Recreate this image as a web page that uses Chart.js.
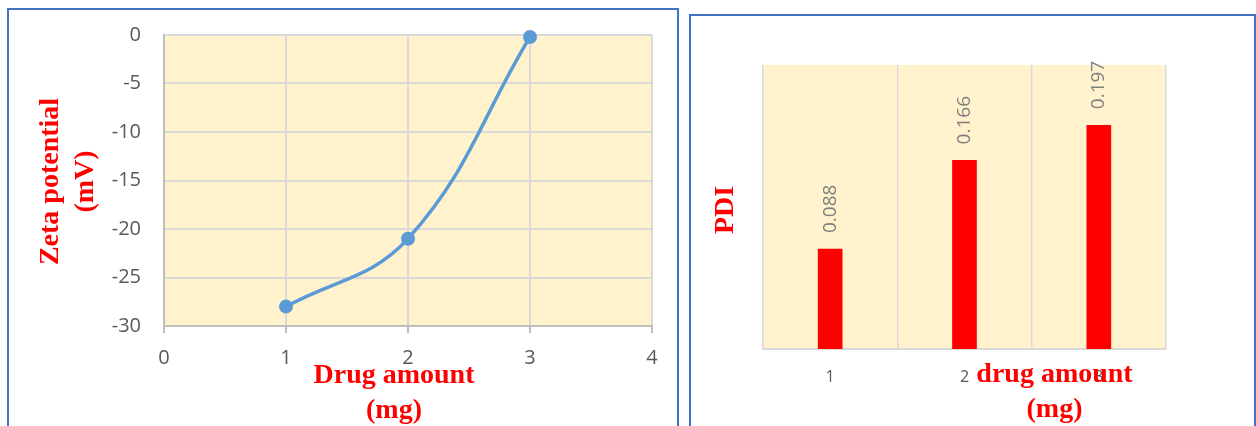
<!DOCTYPE html>
<html>
<head>
<meta charset="utf-8">
<title>Zeta potential and PDI vs drug amount</title>
<script src="https://cdn.jsdelivr.net/npm/chart.js@4.4.1/dist/chart.umd.min.js"></script>
<style>
  html, body { margin: 0; padding: 0; background: #fff; }
  #page { position: relative; width: 1256px; height: 426px; overflow: hidden; }
  .panel { position: absolute; box-sizing: border-box; border: 2px solid #4472c4; }
  #zeta-panel { left: 7px; top: 8px; width: 672px; height: 440px; }
  #pdi-panel { left: 689px; top: 14px; width: 567px; height: 440px; }
  canvas { position: absolute; top: 0; }
  #zeta-chart { left: 0; }
  #pdi-chart { left: 680px; }
</style>
</head>
<body>
<div id="page">
  <div class="panel" id="zeta-panel"></div>
  <div class="panel" id="pdi-panel"></div>
  <canvas id="zeta-chart" width="680" height="426"></canvas>
  <canvas id="pdi-chart" width="576" height="426"></canvas>
</div>
<script>
// zeta potential (mV) per drug amount (mg)
const drugAmounts = [1, 2, 3];
const zetaPotential = [-28, -21, -0.2];
const zetaXTicks = [0, 1, 2, 3, 4];
const zetaYTicks = [0, -5, -10, -15, -20, -25, -30];

// polydispersity index per drug amount
const pdiCategories = ['1', '2', '3'];
const pdiValues = [0.088, 0.166, 0.197];

const TICK_FONT = 'Open Sans';
const TITLE_FONT = 'bold 28px "Liberation Serif", "Times New Roman", serif';
const TITLE_COLOR = '#ff0000';
const PLOT_FILL = '#fff2cc';

// fills the plot area before grid lines are drawn
const plotBackground = {
  id: 'plotBackground',
  beforeDraw(chart, args, opts) {
    const { ctx, chartArea } = chart;
    ctx.save();
    ctx.fillStyle = opts.color;
    ctx.fillRect(chartArea.left, chartArea.top, chartArea.width, chartArea.height);
    ctx.restore();
  },
};

// two-line axis titles placed relative to the plot area
const axisTitles = {
  id: 'axisTitles',
  afterDraw(chart, args, opts) {
    const { ctx, chartArea } = chart;
    ctx.save();
    ctx.font = opts.font;
    ctx.fillStyle = opts.color;
    ctx.textAlign = 'center';
    ctx.textBaseline = 'middle';
    opts.items.forEach((item) => {
      item.lines.forEach((line, i) => {
        ctx.save();
        if (item.vertical) {
          const x = chartArea.left + item.dx + i * opts.lineHeight;
          const y = (chartArea.top + chartArea.bottom) / 2 + item.dy;
          ctx.translate(x, y);
          ctx.rotate(-Math.PI / 2);
        } else {
          const x = (chartArea.left + chartArea.right) / 2 + item.dx;
          const y = chartArea.bottom + item.dy + i * opts.lineHeight;
          ctx.translate(x, y);
        }
        ctx.fillText(line, 0, 0);
        ctx.restore();
      });
    });
    ctx.restore();
  },
};

// rotated value labels above each bar
const barValueLabels = {
  id: 'barValueLabels',
  afterDatasetsDraw(chart, args, opts) {
    const { ctx } = chart;
    const meta = chart.getDatasetMeta(0);
    const values = chart.data.datasets[0].data;
    ctx.save();
    ctx.font = opts.font;
    ctx.fillStyle = opts.color;
    ctx.textAlign = 'left';
    ctx.textBaseline = 'middle';
    meta.data.forEach((bar, i) => {
      ctx.save();
      ctx.translate(bar.x, bar.y - opts.offset);
      ctx.rotate(-Math.PI / 2);
      ctx.fillText(values[i].toFixed(3), 0, 0);
      ctx.restore();
    });
    ctx.restore();
  },
};

const fixedTicks = (values) => (scale) => {
  scale.ticks = values.slice().sort((a, b) => a - b).map((value) => ({ value }));
};

const createZetaChart = () => new Chart(document.getElementById('zeta-chart'), {
  type: 'line',
  data: {
    datasets: [{
      data: drugAmounts.map((x, i) => ({ x, y: zetaPotential[i] })),
      borderColor: '#5b9bd5',
      backgroundColor: '#5b9bd5',
      borderWidth: 3.5,
      tension: 0.4,
      pointRadius: 7,
      pointBorderWidth: 0,
      pointBackgroundColor: '#5b9bd5',
      clip: false,
    }],
  },
  options: {
    responsive: false,
    animation: false,
    layout: { padding: { left: 0, top: 34, right: 28, bottom: 0 } },
    plugins: {
      legend: { display: false },
      tooltip: { enabled: false },
      plotBackground: { color: PLOT_FILL },
      axisTitles: {
        font: TITLE_FONT,
        color: TITLE_COLOR,
        lineHeight: 35,
        items: [
          { lines: ['Drug amount', '(mg)'], dx: -14, dy: 50 },
          { lines: ['Zeta potential', '(mV)'], vertical: true, dx: -113, dy: 1 },
        ],
      },
    },
    scales: {
      x: {
        type: 'linear',
        min: 0,
        max: 4,
        afterBuildTicks: fixedTicks(zetaXTicks),
        afterFit: (scale) => { scale.height = 100; },
        grid: { color: '#d9d9d9', lineWidth: 2, drawTicks: true, tickLength: 7, tickColor: '#bfbfbf' },
        border: { color: '#bfbfbf', width: 2 },
        ticks: { color: '#595959', font: { family: TICK_FONT, size: 20 }, padding: 13 },
      },
      y: {
        min: -30,
        max: 0,
        afterBuildTicks: fixedTicks(zetaYTicks),
        afterFit: (scale) => { scale.width = 164; },
        grid: { color: '#d9d9d9', lineWidth: 2, drawTicks: false },
        border: { color: '#bfbfbf', width: 2 },
        ticks: { color: '#595959', font: { family: TICK_FONT, size: 20 }, padding: 23 },
      },
    },
  },
  plugins: [plotBackground, axisTitles],
});

const createPdiChart = () => new Chart(document.getElementById('pdi-chart'), {
  type: 'bar',
  data: {
    labels: pdiCategories,
    datasets: [{
      data: pdiValues,
      backgroundColor: '#ff0000',
      barThickness: 24,
    }],
  },
  options: {
    responsive: false,
    animation: false,
    layout: { padding: { left: 0, top: 65, right: 90, bottom: 0 } },
    plugins: {
      legend: { display: false },
      tooltip: { enabled: false },
      plotBackground: { color: PLOT_FILL },
      barValueLabels: { font: '19px "Open Sans"', color: '#7f7f7f', offset: 16 },
      axisTitles: {
        font: TITLE_FONT,
        color: TITLE_COLOR,
        lineHeight: 35,
        items: [
          { lines: ['drug amount', '(mg)'], dx: 90, dy: 26 },
          { lines: ['PDI'], vertical: true, dx: -37, dy: 3 },
        ],
      },
    },
    scales: {
      x: {
        offset: true,
        afterFit: (scale) => { scale.height = 77; },
        grid: { offset: true, color: '#d9d9d9', lineWidth: 1.5, drawTicks: false },
        border: { color: '#d9d9d9', width: 2 },
        ticks: { color: '#595959', font: { family: TICK_FONT, size: 16 }, padding: 19 },
      },
      y: {
        min: 0,
        max: 0.25,
        afterFit: (scale) => { scale.width = 83; },
        grid: { display: false },
        border: { display: false },
        ticks: { display: false },
      },
    },
  },
  plugins: [plotBackground, barValueLabels, axisTitles],
});

const init = () => {
  createZetaChart();
  createPdiChart();
};

window.addEventListener('DOMContentLoaded', init);
</script>
</body>
</html>
